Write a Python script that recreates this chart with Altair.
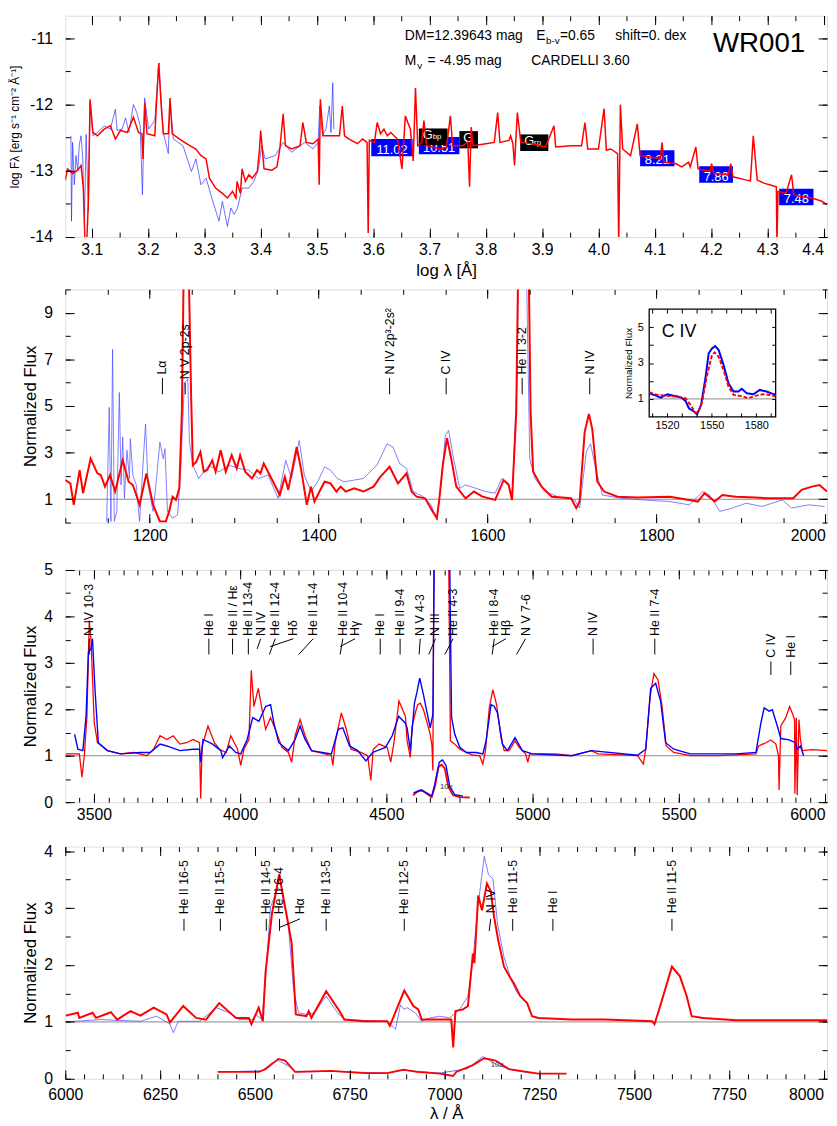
import altair as alt
import pandas as pd

FONT = "Liberation Sans"
W = 771
H1, H2, H3, H4 = 224, 236, 235, 235

# ---------------- Panel 1 : SED (log lambda, log F) ----------------
P1_XDOM = [3.053, 4.406]
P1_YDOM = [-14.0, -10.657]
P1_RED = [(3.053,-13.14),(3.057,-12.97),(3.066,-13.04),(3.075,-12.99),(3.081,-12.92),(3.085,-13.26),
          (3.088,-14.1),(3.091,-14.1),(3.094,-13.46),(3.097,-11.92),(3.102,-12.42),(3.110,-12.47),
          (3.122,-12.37),(3.133,-12.32),(3.142,-12.52),(3.151,-12.39),(3.163,-12.42),(3.174,-12.19),
          (3.183,-12.42),(3.189,-12.44),(3.191,-12.82),(3.194,-11.97),(3.198,-12.44),(3.212,-12.47),
          (3.215,-11.97),(3.219,-11.37),(3.223,-11.97),(3.227,-12.44),(3.236,-12.44),(3.239,-11.90),
          (3.243,-12.44),(3.256,-12.52),(3.274,-12.62),(3.285,-12.67),(3.294,-12.77),(3.303,-12.82),
          (3.309,-13.11),(3.320,-13.26),(3.332,-13.34),(3.341,-13.41),(3.350,-13.31),(3.356,-13.41),
          (3.358,-13.16),(3.364,-13.34),(3.367,-12.97),(3.373,-13.16),(3.379,-13.06),(3.385,-13.11),
          (3.394,-13.01),(3.398,-12.67),(3.400,-12.39),(3.406,-12.97),(3.420,-12.99),(3.429,-12.94),
          (3.434,-12.67),(3.440,-12.14),(3.444,-12.62),(3.455,-12.67),(3.470,-12.62),(3.475,-12.27),
          (3.481,-12.57),(3.493,-12.59),(3.502,-12.52),(3.504,-13.21),(3.506,-11.92),(3.511,-12.47),
          (3.525,-12.47),(3.540,-12.47),(3.545,-12.02),(3.549,-12.47),(3.557,-12.52),(3.572,-12.59),
          (3.581,-12.52),(3.589,-12.57),(3.591,-13.94),(3.593,-12.54),(3.602,-12.57),(3.607,-12.27),
          (3.613,-12.44),(3.619,-12.37),(3.625,-12.47),(3.631,-12.42),(3.643,-12.52),(3.651,-12.97),
          (3.657,-12.17),(3.666,-12.37),(3.671,-12.85),(3.675,-11.75),(3.679,-12.62),(3.686,-12.57),
          (3.690,-12.24),(3.695,-12.62),(3.718,-12.67),(3.730,-12.65),(3.737,-12.17),(3.741,-12.62),
          (3.759,-12.62),(3.768,-12.57),(3.771,-13.24),(3.774,-12.34),(3.777,-12.62),(3.800,-12.59),
          (3.815,-12.57),(3.821,-12.12),(3.825,-12.57),(3.841,-12.54),(3.844,-12.47),(3.848,-12.59),
          (3.851,-12.92),(3.853,-12.57),(3.856,-12.12),(3.862,-12.57),(3.882,-12.59),(3.906,-12.64),
          (3.921,-12.32),(3.924,-12.64),(3.952,-12.62),(3.970,-12.62),(3.976,-12.27),(3.981,-12.67),
          (4.000,-12.67),(4.010,-12.06),(4.014,-12.69),(4.022,-12.67),(4.034,-12.74),(4.036,-14.1),
          (4.039,-12.00),(4.043,-12.67),(4.057,-12.77),(4.069,-12.29),(4.074,-12.77),(4.092,-12.79),
          (4.110,-12.82),(4.113,-12.57),(4.116,-12.87),(4.137,-12.89),(4.148,-12.94),(4.160,-12.87),
          (4.163,-12.94),(4.173,-12.64),(4.177,-12.97),(4.198,-13.01),(4.201,-12.89),(4.205,-13.04),
          (4.230,-13.06),(4.235,-12.89),(4.239,-13.09),(4.263,-13.14),(4.270,-13.15),(4.275,-12.47),
          (4.282,-13.14),(4.295,-13.19),(4.304,-13.21),(4.316,-13.24),(4.317,-14.1),(4.319,-13.31),
          (4.333,-13.34),(4.343,-13.06),(4.347,-13.36),(4.362,-13.39),(4.379,-13.41),(4.397,-13.46),
          (4.406,-13.51)]
P1_BLUE = [(3.063,-12.47),(3.064,-13.76),(3.066,-12.57),(3.069,-13.21),(3.072,-12.77),(3.075,-13.0),
           (3.078,-12.6),(3.081,-12.47),(3.084,-12.82),(3.087,-13.76),(3.090,-12.45),(3.094,-13.61),
           (3.097,-11.97),(3.102,-12.47),(3.110,-12.42),(3.122,-12.32),(3.133,-12.37),(3.142,-12.07),
           (3.145,-12.39),(3.154,-12.37),(3.160,-12.2),(3.166,-12.42),(3.174,-12.0),(3.180,-12.12),
           (3.186,-12.32),(3.190,-13.36),(3.194,-11.90),(3.201,-12.37),(3.212,-12.24),(3.219,-11.37),
           (3.227,-12.42),(3.236,-12.74),(3.239,-11.97),(3.245,-12.52),(3.262,-12.62),(3.277,-13.01),
           (3.285,-12.82),(3.294,-13.21),(3.303,-13.11),(3.315,-13.46),(3.326,-13.76),(3.332,-13.46),
           (3.341,-13.84),(3.347,-13.56),(3.353,-13.66),(3.359,-13.56),(3.367,-13.26),(3.379,-13.26),
           (3.388,-13.16),(3.396,-12.97),(3.402,-12.62),(3.408,-12.82),(3.426,-12.77),(3.440,-12.57),
           (3.455,-12.72),(3.478,-12.57),(3.493,-12.67),(3.502,-12.57),(3.505,-12.02),(3.510,-12.47),
           (3.516,-12.37),(3.522,-12.02),(3.525,-12.42),(3.528,-11.67),(3.530,-12.37)]
P1_BLUE_BOX_X1 = [3.5965, 3.681, 4.074, 4.179, 4.321]
P1_BLUE_BOX_X2 = [3.670, 3.753, 4.135, 4.239, 4.382]
P1_BLUE_BOX_Y1 = [-12.52, -12.49, -12.69, -12.93, -13.27]
P1_BLUE_BOX_Y2 = [-12.78, -12.75, -12.93, -13.18, -13.52]
P1_BLUE_BOX_TXT = ["11.02", "10.51", "8.21", "7.86", "7.48"]
P1_BLACK_BOX_X1 = [3.681, 3.753, 3.861]
P1_BLACK_BOX_X2 = [3.732, 3.786, 3.911]
P1_BLACK_BOX_Y1 = [-12.36, -12.40, -12.45]
P1_BLACK_BOX_Y2 = [-12.61, -12.66, -12.70]
P1_BLACK_BOX_TXT = ["G", "G", "G"]
P1_BLACK_BOX_SUB = ["bp", "", "rp"]
P1_INFO_TXT = ["DM=12.39643 mag", "E", "=0.65", "shift=0. dex", "M", "= -4.95 mag", "CARDELLI 3.60"]
P1_INFO_X = [3.656, 3.8895, 3.9316, 4.030, 3.656, 3.6965, 3.8807]
P1_INFO_Y = [-11.03, -11.03, -11.03, -11.03, -11.40, -11.40, -11.40]
P1_SUB_TXT = ["b-v", "v"]
P1_SUB_X = [3.9070, 3.678]
P1_SUB_Y = [-11.09, -11.46]
P1_TITLE = ["WR001"]
P1_TITLE_X = [4.2035]
P1_TITLE_Y = [-11.20]

# ---------------- Panel 2 : UV ----------------
P2_XDOM = [1100, 2002]
P2_YDOM = [0, 10]
P2_RED = [(1100,1.82),(1106,1.68),(1110,0.76),(1117,2.25),(1121,1.26),(1130,2.74),(1138,2.11),(1142,2.04),
          (1147,1.54),(1153,2.04),(1159,1.33),(1168,2.67),(1175,1.75),(1180,1.61),(1188,0.76),(1196,2.11),
          (1204,0.76),(1212,0.05),(1219,0.05),(1223,0.48),(1227,1.11),(1231,0.97),(1235,1.47),(1238,4.73),
          (1241,13),(1245,13),(1249,5.44),(1251,2.46),(1255,2.60),(1260,3.03),(1264,2.18),(1268,2.25),
          (1274,2.67),(1278,2.18),(1284,3.10),(1290,2.18),(1297,2.89),(1303,2.32),(1307,2.89),(1313,2.18),
          (1321,1.89),(1327,2.25),(1331,2.11),(1335,2.53),(1340,2.18),(1348,1.61),(1354,1.18),(1360,1.96),
          (1364,1.40),(1374,3.24),(1379,2.32),(1386,0.76),(1391,1.54),(1395,0.90),(1401,1.33),(1407,1.75),
          (1414,1.68),(1421,1.33),(1426,1.54),(1432,1.33),(1442,1.47),(1453,1.33),(1465,1.54),(1473,1.96),
          (1484,2.39),(1494,1.68),(1504,2.11),(1510,1.33),(1516,1.11),(1526,1.04),(1535,0.48),(1540,0.19),
          (1543,1.04),(1547,2.46),(1552,3.62),(1557,2.74),(1563,1.54),(1574,1.04),(1584,1.33),(1594,1.11),
          (1609,0.97),(1619,1.82),(1625,1.61),(1629,0.97),(1634,4.73),(1637,13),(1648,13),(1651,4.73),
          (1654,2.18),(1664,1.54),(1676,1.11),(1699,1.04),(1705,0.62),(1709,0.90),(1715,3.88),(1720,4.66),
          (1724,4.02),(1730,1.75),(1738,1.33),(1754,1.11),(1777,1.07),(1816,1.11),(1839,0.97),(1849,0.90),
          (1857,1.26),(1869,0.90),(1878,1.18),(1894,1.11),(1917,1.07),(1933,1.04),(1962,1.04),(1972,1.40),
          (1984,1.54),(1993,1.61),(2002,1.33)]
P2_BLUE = [(1149,0.05),(1152,4.94),(1154,0.05),(1156,7.43),(1158,0.05),(1161,0.48),(1164,5.58),(1166,1.61),
           (1168,3.67),(1170,1.04),(1173,3.10),(1176,1.89),(1177,3.60),(1180,2.04),(1184,1.61),(1188,0.05),
           (1191,1.89),(1195,4.23),(1198,1.61),(1204,0.48),(1208,1.89),(1212,3.45),(1216,2.74),(1218,3.17),
           (1221,0.48),(1227,0.19),(1233,0.33),(1237,2.46),(1241,6.0),(1245,6.15),(1247,3.45),(1251,2.46),
           (1258,1.89),(1270,2.46),(1282,2.18),(1294,2.46),(1305,2.32),(1317,2.25),(1329,1.89),(1340,2.04),
           (1352,1.04),(1361,2.67),(1368,1.89),(1377,3.52),(1383,2.04),(1391,1.33),(1399,1.75),(1407,2.39),
           (1414,2.25),(1422,1.89),(1430,1.75),(1442,1.82),(1453,1.89),(1469,2.46),(1481,3.38),(1488,3.24),
           (1496,2.53),(1504,2.32),(1512,1.33),(1524,1.11),(1533,0.76),(1540,0.12),(1545,1.61),(1550,3.74),
           (1554,3.95),(1559,2.89),(1567,1.47),(1574,1.61),(1586,1.47),(1598,1.33),(1609,1.26),(1617,1.89),
           (1625,1.68),(1629,0.97),(1635,6.15),(1637,13),(1645,13),(1650,2.74),(1656,1.89),(1668,1.33),
           (1683,1.11),(1703,0.97),(1709,0.62),(1717,3.03),(1722,3.38),(1728,2.32),(1736,1.18),(1758,1.04),
           (1785,0.97),(1816,0.90),(1839,0.76),(1855,1.33),(1863,1.18),(1875,0.48),(1890,0.62),(1906,0.83),
           (1925,0.69),(1949,0.97),(1960,0.62),(1980,0.76),(1999,0.69)]
P2_ID_TXT = ["L\u03b1", "N V 2p-2s", "N IV 2p\u00b3-2s\u00b2", "C IV", "He II 3-2", "N IV"]
P2_ID_X = [1215, 1242, 1484, 1551, 1641, 1721]
P2_ID_TEXT_Y = [6.35, 6.15, 6.35, 6.35, 6.35, 6.35]
P2_ID_LEAD_X2 = [1215, 1242, 1484, 1551, 1641, 1721]
P2_ID_LEAD_TOP = [6.2, 6.0, 6.2, 6.2, 6.2, 6.2]
P2_ID_LEAD_BOT = [5.5, 5.5, 5.5, 5.5, 5.5, 5.5]

# inset (C IV)
INSET_XDOM = [1508, 1593]
INSET_YDOM = [0, 6]
INSET_BLUE = [(1508,1.31),(1511.3,1.22),(1515.8,1.07),(1520.2,1.26),(1523.6,1.19),(1526.9,1.13),(1530.2,1.04),
              (1532.4,0.89),(1534.7,0.48),(1538,0.30),(1540.2,0.15),(1542.9,0.67),(1545.8,2.15),(1548,3.54),
              (1550.2,3.81),(1552.4,3.94),(1554.7,3.72),(1558,2.89),(1561.3,1.87),(1564.7,1.41),(1568,1.41),
              (1570.2,1.56),(1573.6,1.31),(1578,1.26),(1582.4,1.50),(1586.9,1.41),(1590.2,1.31),(1593,1.22)]
INSET_RED = [(1508,1.37),(1513.6,1.22),(1520.2,1.17),(1526.9,1.13),(1532.4,1.04),(1535.8,0.67),(1539.1,0.20),
             (1541.3,0.30),(1543.6,0.85),(1546.9,2.33),(1550.2,3.44),(1552,3.59),(1554.7,3.35),(1558,2.61),
             (1561.3,1.69),(1564.7,1.22),(1569.1,1.17),(1574.7,1.04),(1579.1,1.17),(1584.7,1.26),(1589.1,1.22),
             (1593,1.13)]
INSET_LABEL = ["C IV"]
INSET_LABEL_X = [1516.5]
INSET_LABEL_Y = [4.45]

# ---------------- Panel 3 : optical blue ----------------
P3_XDOM = [3402, 6007]
P3_YDOM = [0, 5]
P3_RED = [(3403,1.04),(3450,1.04),(3459,0.54),(3467,1.0),(3476,1.85),(3484,3.91),(3490,3.48),(3501,1.71),
          (3512,1.28),(3546,1.11),(3591,1.04),(3636,1.07),(3681,1.0),(3704,1.14),(3726,1.43),(3749,1.35),
          (3771,1.43),(3794,1.25),(3816,1.28),(3839,1.35),(3861,1.28),(3865,0.08),(3870,1.21),(3890,1.64),
          (3912,1.28),(3929,1.14),(3952,1.07),(3968,1.43),(3991,1.14),(4002,0.79),(4013,1.14),(4030,1.35),
          (4038,2.84),(4047,2.06),(4062,2.45),(4075,1.99),(4087,1.57),(4104,1.82),(4120,1.57),(4143,1.18),
          (4165,1.07),(4176,0.86),(4188,1.43),(4205,1.78),(4222,1.43),(4244,1.11),(4289,1.04),(4312,1.0),
          (4317,0.79),(4325,1.28),(4346,1.92),(4363,1.57),(4379,1.14),(4413,1.07),(4436,1.0),(4447,0.47),
          (4455,1.14),(4475,1.25),(4503,1.18),(4515,0.86),(4526,1.28),(4543,2.18),(4565,1.85),(4571,1.32),
          (4582,0.96),(4588,1.64),(4599,1.92),(4607,2.10),(4616,2.13),(4627,1.99),(4638,1.74),(4650,1.46),
          (4656,1.21),(4659,0.68),(4663,6.0),(4712,6.0),(4719,1.32),(4734,1.25),(4751,1.14),(4774,1.07),
          (4796,1.01),(4819,1.0),(4830,0.82),(4839,1.11),(4852,2.03),(4864,2.42),(4877,2.10),(4892,1.39),
          (4903,1.11),(4920,1.11),(4940,1.32),(4954,1.18),(4976,1.04),(4984,0.86),(4990,1.04),(5078,1.04),
          (5134,1.0),(5179,1.07),(5201,1.11),(5224,1.04),(5359,1.0),(5379,0.82),(5387,1.14),(5402,2.28),
          (5415,2.77),(5429,2.63),(5443,2.06),(5457,1.21),(5483,1.07),(5539,1.0),(5640,1.0),(5764,1.04),
          (5773,1.21),(5798,1.28),(5815,1.34),(5832,1.25),(5841,1.0),(5843,0.26),(5849,1.64),(5866,1.82),
          (5879,2.06),(5888,1.92),(5896,1.78),(5897,0.18),(5902,1.82),(5905,0.15),(5911,1.78),(5916,1.35),
          (5922,1.11),(5956,1.13),(6007,1.11)]
P3_BLUE = [(3434,1.46),(3445,1.14),(3462,1.11),(3473,1.85),(3481,3.23),(3490,3.30),(3495,3.52),(3503,2.49),
           (3515,1.28),(3546,1.11),(3591,1.04),(3659,1.07),(3692,1.07),(3726,1.25),(3749,1.21),(3794,1.11),
           (3839,1.14),(3861,1.14),(3865,0.86),(3873,1.35),(3906,1.25),(3934,1.11),(3940,0.96),(3963,1.21),
           (3985,1.07),(4002,1.04),(4024,1.35),(4043,1.82),(4064,1.74),(4087,2.06),(4104,2.10),(4115,1.71),
           (4132,1.28),(4165,1.11),(4188,1.35),(4205,1.64),(4222,1.35),(4244,1.11),(4312,1.04),(4335,1.57),
           (4351,1.60),(4374,1.21),(4402,1.11),(4430,0.89),(4453,1.07),(4497,1.18),(4520,1.43),(4542,1.85),
           (4565,1.70),(4571,1.60),(4582,1.11),(4596,2.13),(4605,2.38),(4614,2.67),(4627,2.31),(4638,1.96),
           (4650,1.60),(4659,1.89),(4665,6.0),(4715,6.0),(4723,1.82),(4734,1.46),(4751,1.18),(4774,1.07),
           (4807,1.07),(4830,1.04),(4841,1.32),(4858,2.10),(4869,2.06),(4880,1.92),(4897,1.25),(4914,1.11),
           (4940,1.39),(4965,1.11),(4999,1.04),(5134,1.0),(5201,1.11),(5359,1.01),(5387,1.14),(5404,2.45),
           (5421,2.56),(5438,2.17),(5455,1.28),(5483,1.14),(5539,1.04),(5697,1.04),(5764,1.07),(5781,1.71),
           (5792,2.03),(5809,1.96),(5820,1.99),(5837,1.64),(5849,1.37),(5877,1.34),(5899,1.28),(5905,1.14),
           (5916,1.21),(5927,1.0)]
P3_RED_10X = [(4591,0.15),(4605,0.22),(4622,0.26),(4638,0.18),(4655,0.11),(4666,0.33),(4678,0.75),(4689,0.81),
              (4700,0.72),(4712,0.33),(4728,0.15),(4751,0.11),(4785,0.10)]
P3_BLUE_10X = [(4593,0.20),(4616,0.26),(4638,0.20),(4655,0.13),(4666,0.40),(4681,0.86),(4692,0.91),(4704,0.79),
               (4717,0.33),(4734,0.16),(4762,0.13)]
P3_10X_LABEL = ["10x"]
P3_10X_X = [4683]
P3_10X_Y = [0.33]
P3_ID_TXT = ["N IV 10-3", "He I", "He II / H\u03b5", "He II 13-4", "N IV", "He II 12-4", "H\u03b4", "He II 11-4",
             "He II 10-4", "H\u03b3", "He I", "He II 9-4", "N V 4-3", "N III", "He II 4-3", "He II 8-4", "H\u03b2",
             "N V 7-6", "N IV", "He II 7-4", "C IV", "He I"]
P3_ID_X = [3484, 3893, 3974, 4028, 4070, 4120, 4182, 4250, 4351, 4393, 4479, 4547, 4616, 4668, 4728, 4869,
           4909, 4976, 5207, 5418, 5815, 5883]
P3_ID_TEXT_Y = [3.58, 3.58, 3.58, 3.58, 3.58, 3.58, 3.58, 3.58, 3.58, 3.58, 3.58, 3.58, 3.58, 3.58, 3.58,
                3.58, 3.58, 3.58, 3.58, 3.58, 3.11, 3.11]
P3_ID_LEAD_X2 = [3484, 3893, 3974, 4028, 4058, 4100, 4102, 4200, 4342, 4342, 4479, 4547, 4612, 4645, 4700,
                 4862, 4862, 4945, 5207, 5418, 5815, 5883]
P3_ID_LEAD_TOP = [3.52, 3.52, 3.52, 3.52, 3.52, 3.52, 3.52, 3.52, 3.52, 3.52, 3.52, 3.52, 3.52, 3.52, 3.52,
                  3.52, 3.52, 3.52, 3.52, 3.52, 3.03, 3.03]
P3_ID_LEAD_BOT = [3.18, 3.18, 3.18, 3.18, 3.30, 3.18, 3.35, 3.18, 3.18, 3.35, 3.18, 3.18, 3.18, 3.18, 3.18,
                  3.18, 3.35, 3.18, 3.18, 3.18, 2.74, 2.74]

# ---------------- Panel 4 : optical red ----------------
P4_XDOM = [6000, 8009]
P4_YDOM = [0, 4.08]
P4_RED = [(6001,1.11),(6033,1.16),(6037,1.07),(6072,1.16),(6081,1.07),(6120,1.17),(6137,1.04),(6172,1.19),
          (6198,1.11),(6233,1.25),(6267,1.13),(6276,0.99),(6311,1.28),(6345,1.07),(6371,1.04),(6406,1.33),
          (6450,1.07),(6484,1.07),(6491,0.96),(6510,1.25),(6521,1.01),(6528,1.86),(6545,2.90),(6564,3.59),
          (6575,3.19),(6588,2.72),(6597,2.38),(6608,1.13),(6636,1.10),(6642,1.19),(6649,1.07),(6688,1.54),
          (6723,1.19),(6736,1.04),(6788,1.01),(6849,1.01),(6856,0.93),(6894,1.55),(6918,1.28),(6931,1.22),
          (6940,1.04),(6970,1.04),(7018,1.04),(7023,0.55),(7029,1.19),(7049,1.22),(7062,1.28),(7075,2.20),
          (7079,2.03),(7089,3.22),(7099,2.96),(7112,3.43),(7122,3.30),(7131,2.84),(7142,2.43),(7157,1.97),
          (7174,1.77),(7183,1.68),(7200,1.45),(7218,1.33),(7231,1.10),(7248,1.07),(7335,1.04),(7422,1.04),
          (7548,1.01),(7554,0.96),(7565,1.19),(7600,1.97),(7621,1.80),(7639,1.45),(7652,1.10),(7682,1.07),
          (7769,1.03),(8009,1.03)]
P4_BLUE = [(6001,1.0),(6094,1.04),(6198,1.01),(6241,1.10),(6276,0.96),(6285,0.81),(6298,1.01),(6354,1.01),
           (6398,1.25),(6432,1.16),(6458,1.04),(6493,1.04),(6502,1.13),(6519,1.04),(6528,1.74),(6541,3.01),
           (6561,3.36),(6570,3.30),(6588,2.72),(6602,1.57),(6615,1.16),(6636,1.13),(6657,1.16),(6688,1.45),
           (6718,1.16),(6736,1.04),(6849,1.01),(6871,0.87),(6884,1.30),(6893,1.22),(6901,1.25),(6923,1.16),
           (6940,1.01),(6962,1.07),(6988,1.10),(7014,1.07),(7040,1.22),(7062,1.45),(7075,2.09),(7088,3.01),
           (7105,3.91),(7116,3.59),(7128,3.51),(7140,2.72),(7157,2.14),(7179,1.68),(7192,1.51),(7200,1.45)]
P4_RED_10X = [(6402,0.12),(6510,0.12),(6528,0.17),(6562,0.35),(6580,0.32),(6606,0.12),(6701,0.14),(6788,0.10),
              (6849,0.10),(6892,0.16),(6927,0.12),(6988,0.09),(7023,0.05),(7031,0.12),(7075,0.24),(7105,0.36),
              (7135,0.32),(7170,0.17),(7248,0.09),(7322,0.09)]
P4_BLUE_10X = [(6402,0.12),(6519,0.14),(6545,0.28),(6562,0.32),(6590,0.22),(6606,0.12),(6701,0.13),(6849,0.10),
               (6892,0.15),(6988,0.10),(7062,0.18),(7101,0.39),(7144,0.23),(7180,0.15),(7230,0.10)]
P4_10X_LABEL = ["10x"]
P4_10X_X = [7122]
P4_10X_Y = [0.24]
P4_ID_TXT = ["He II 16-5", "He II 15-5", "He II 14-5", "He II 6-4", "H\u03b1", "He II 13-5", "He II 12-5",
             "N IV", "He II 11-5", "He I", "He II 11-5"]
P4_ID_X = [6313, 6409, 6530, 6565, 6619, 6688, 6894, 7122, 7180, 7286, 7600]
P4_ID_TEXT_Y = [2.89, 2.89, 2.89, 2.89, 2.89, 2.89, 2.89, 2.91, 2.91, 2.91, 2.91]
P4_ID_LEAD_X2 = [6313, 6409, 6530, 6565, 6565, 6688, 6894, 7118, 7180, 7286, 7600]
P4_ID_LEAD_TOP = [2.81, 2.81, 2.81, 2.81, 2.81, 2.81, 2.81, 2.81, 2.81, 2.81, 2.81]
P4_ID_LEAD_BOT = [2.60, 2.60, 2.60, 2.60, 2.66, 2.60, 2.60, 2.60, 2.60, 2.60, 2.60]

CONTINUUM = [1.0]

# ---------------- helpers ----------------
def mk_df(pairs):
    return pd.DataFrame({"x": [p[0] for p in pairs], "y": [p[1] for p in pairs],
                         "i": list(range(len(pairs)))})


def sc(dom, rng=None):
    if rng is None:
        return alt.Scale(domain=dom, nice=False, zero=False)
    return alt.Scale(domain=dom, range=rng, nice=False, zero=False)


def XE(field, s, axis=None):
    return alt.X(field, type="quantitative", scale=s, axis=axis)


def YE(field, s, axis=None):
    return alt.Y(field, type="quantitative", scale=s, axis=axis)


def tick_axis(orient, values, size, offset):
    # axis moved onto the opposite edge of the view so that its ticks point inward
    return alt.Axis(orient=orient, values=values, labels=False, domain=False, grid=False, ticks=True,
                    tickSize=size, tickColor="black", tickWidth=1, tickOpacity=1, title=None,
                    offset=offset, zindex=2)


def xlab_axis(values, fmt, last, title=None, tsize=17, tpad=5, topacity=1.0, lpad=5):
    return alt.Axis(orient="bottom", values=values, format=fmt, ticks=False, domain=False, grid=False,
                    labelFont=FONT, labelFontSize=16, labelColor="black", labelPadding=lpad,
                    labelOverlap=False, labelFlush=False,
                    labelExpr="replace(datum.label, '\u2212', '-')",
                    labelAlign={"condition": {"test": "datum.value >= %s" % last, "value": "right"},
                                "value": "center"},
                    title=title, titleFont=FONT, titleFontSize=tsize, titleFontWeight="normal",
                    titleColor="black", titlePadding=tpad, titleOpacity=topacity)


def ylab_axis(values, fmt, title, tsize=17, tpad=4, lpad=13):
    return alt.Axis(orient="left", values=values, format=fmt, ticks=False, domain=False, grid=False,
                    labelFont=FONT, labelFontSize=16, labelColor="black", labelPadding=lpad,
                    labelOverlap=False, labelExpr="replace(datum.label, '\u2212', '-')",
                    title=title, titleFont=FONT, titleFontSize=tsize, titleFontWeight="normal",
                    titleColor="black", titlePadding=tpad)


def hosts(xdom, ydom, sx, sy, h, xlab, ylab, xmaj, xmin, ymaj, ymin, big=9, small=5):
    df = pd.DataFrame({"x": [(xdom[0] + xdom[1]) / 2.0], "y": [(ydom[0] + ydom[1]) / 2.0]})
    base = alt.Chart(df).mark_point(opacity=0, size=1)
    pairs = [(xlab, ylab),
             (tick_axis("top", xmaj, big, -h), tick_axis("right", ymaj, big, -W)),
             (tick_axis("top", xmin, small, -h), tick_axis("right", ymin, small, -W)),
             (tick_axis("bottom", xmaj, big, -h), tick_axis("left", ymaj, big, -W)),
             (tick_axis("bottom", xmin, small, -h), tick_axis("left", ymin, small, -W))]
    return [base.encode(x=XE("x", sx, a), y=YE("y", sy, b)) for a, b in pairs]


def line(pairs, sx, sy, color, width, opacity=1.0, dash=None):
    kw = dict(color=color, strokeWidth=width, opacity=opacity, clip=True, interpolate="linear")
    if dash:
        kw["strokeDash"] = dash
    return alt.Chart(mk_df(pairs)).mark_line(**kw).encode(
        x=XE("x", sx), y=YE("y", sy), order=alt.Order("i:Q"))


def continuum(sy, color="#888888", width=1.0):
    return alt.Chart(pd.DataFrame({"y": CONTINUUM})).mark_rule(color=color, strokeWidth=width).encode(
        y=YE("y", sy))


def ids(texts, xs, ty, x2s, ytop, ybot, sx, sy, fs=12.5):
    tdf = pd.DataFrame({"t": texts, "x": xs, "y": ty})
    ldf = pd.DataFrame({"x": xs, "x2": x2s, "y": ytop, "y2": ybot})
    r = alt.Chart(ldf).mark_rule(color="black", strokeWidth=1, clip=True).encode(
        x=XE("x", sx), x2=alt.X2("x2"), y=YE("y", sy), y2=alt.Y2("y2"))
    t = alt.Chart(tdf).mark_text(angle=270, align="left", baseline="middle", font=FONT, fontSize=fs,
                                 color="black").encode(x=XE("x", sx), y=YE("y", sy), text="t:N")
    return [r, t]


def text_layer(texts, xs, ys, sx, sy, **kw):
    df = pd.DataFrame({"t": texts, "x": xs, "y": ys})
    return alt.Chart(df).mark_text(**kw).encode(x=XE("x", sx), y=YE("y", sy), text="t:N")


def frange(a, b, step, nd=2):
    out, k = [], 0
    while True:
        v = round(a + k * step, nd)
        if v > b + 1e-9:
            break
        out.append(v)
        k += 1
    return out

# ---------------- Panel 1 ----------------
sx1, sy1 = sc(P1_XDOM), sc(P1_YDOM)
p1_xmaj = frange(3.1, 4.4, 0.1)
p1_xmin = frange(3.1, 4.4, 0.05)
p1_ymaj = [-14, -13, -12, -11]
p1_ymin = frange(-14, -11, 0.5)
p1_hosts = hosts(P1_XDOM, P1_YDOM, sx1, sy1, H1,
                 xlab_axis(p1_xmaj, ".1f", 4.39, title="log \u03bb [\u00c5]", tpad=5),
                 ylab_axis(p1_ymaj, ".0f", "log F\u03bb [erg s\u207b\u00b9 cm\u207b\u00b2 \u00c5\u207b\u00b9]",
                           tsize=12, tpad=8),
                 p1_xmaj, p1_xmin, p1_ymaj, p1_ymin, big=9, small=5)

bb = pd.DataFrame({"x1": P1_BLUE_BOX_X1, "x2": P1_BLUE_BOX_X2, "y1": P1_BLUE_BOX_Y1,
                   "y2": P1_BLUE_BOX_Y2, "t": P1_BLUE_BOX_TXT})
bb["xc"] = (bb["x1"] + bb["x2"]) / 2
kb = pd.DataFrame({"x1": P1_BLACK_BOX_X1, "x2": P1_BLACK_BOX_X2, "y1": P1_BLACK_BOX_Y1,
                   "y2": P1_BLACK_BOX_Y2, "t": P1_BLACK_BOX_TXT, "s": P1_BLACK_BOX_SUB})
kb["yc"] = (kb["y1"] + kb["y2"]) / 2

blue_boxes = alt.Chart(bb).mark_rect(color="#0000ff").encode(
    x=XE("x1", sx1), x2=alt.X2("x2"), y=YE("y1", sy1), y2=alt.Y2("y2"))
blue_box_txt = alt.Chart(bb).mark_text(color="white", font=FONT, fontSize=13, baseline="bottom",
                                        dy=1).encode(
    x=XE("xc", sx1), y=YE("y2", sy1), text="t:N")
black_boxes = alt.Chart(kb).mark_rect(color="black").encode(
    x=XE("x1", sx1), x2=alt.X2("x2"), y=YE("y1", sy1), y2=alt.Y2("y2"))
black_box_txt = alt.Chart(kb).mark_text(color="white", font=FONT, fontSize=13, baseline="middle",
                                         align="left", dx=4, dy=-2).encode(
    x=XE("x1", sx1), y=YE("yc", sy1), text="t:N")
black_box_sub = alt.Chart(kb).mark_text(color="white", font=FONT, fontSize=8, baseline="middle",
                                         align="left", dx=14, dy=0.5).encode(
    x=XE("x1", sx1), y=YE("yc", sy1), text="s:N")

p1 = alt.layer(
    *p1_hosts,
    line(P1_BLUE, sx1, sy1, "#2a2aff", 0.8, 0.85),
    blue_boxes, blue_box_txt, black_boxes, black_box_txt, black_box_sub,
    line(P1_RED, sx1, sy1, "#ff0000", 1.5),
    text_layer(P1_INFO_TXT, P1_INFO_X, P1_INFO_Y, sx1, sy1, align="left", baseline="alphabetic",
               font=FONT, fontSize=14, color="black"),
    text_layer(P1_SUB_TXT, P1_SUB_X, P1_SUB_Y, sx1, sy1, align="left", baseline="alphabetic",
               font=FONT, fontSize=10, color="black"),
    text_layer(P1_TITLE, P1_TITLE_X, P1_TITLE_Y, sx1, sy1, align="left", baseline="alphabetic",
               font=FONT, fontSize=28, color="black"),
).resolve_axis(x="independent", y="independent").properties(width=W, height=H1)

# ---------------- Panel 2 ----------------
sx2, sy2 = sc(P2_XDOM), sc(P2_YDOM)
p2_xmaj = [1200, 1400, 1600, 1800, 2000]
p2_xmin = frange(1100, 2000, 50, 0)
p2_ymaj = [1, 3, 5, 7, 9]
p2_ymin = frange(0, 10, 1, 0)
p2_hosts = hosts(P2_XDOM, P2_YDOM, sx2, sy2, H2,
                 xlab_axis(p2_xmaj, "d", 1999, title=".", tsize=6, tpad=2, topacity=0.0),
                 ylab_axis(p2_ymaj, "d", "Normalized Flux"),
                 p2_xmaj, p2_xmin, p2_ymaj, p2_ymin)

IX0, IX1, IY0, IY1 = 591, 719, 20, 129
sxi = sc(INSET_XDOM, [IX0, IX1])
syi = sc(INSET_YDOM, [IY1, IY0])
inset_frame = alt.Chart(pd.DataFrame({"x": [INSET_XDOM[0]], "x2": [INSET_XDOM[1]],
                                      "y": [INSET_YDOM[0]], "y2": [INSET_YDOM[1]]})).mark_rect(
    fill="white", stroke="black", strokeWidth=1.3).encode(
    x=XE("x", sxi), x2=alt.X2("x2"), y=YE("y", syi), y2=alt.Y2("y2"))
inset_cont = alt.Chart(pd.DataFrame({"x": [INSET_XDOM[0]], "x2": [INSET_XDOM[1]], "y": CONTINUUM})).mark_rule(
    color="#888888", strokeWidth=1).encode(x=XE("x", sxi), x2=alt.X2("x2"), y=YE("y", syi))
ihost = alt.Chart(pd.DataFrame({"x": [1550.0], "y": [3.0]})).mark_point(opacity=0, size=1)
ix_lab = alt.Axis(orient="bottom", offset=IY1 - H2, values=[1520, 1550, 1580], format="d", ticks=False,
                  domain=False, grid=False, labelFont=FONT, labelFontSize=11, labelPadding=3,
                  labelColor="black", labelFlush=False, labelOverlap=False, title=None, zindex=2)
iy_lab = alt.Axis(orient="left", offset=-IX0, values=[1, 3, 5], format="d", ticks=False, domain=False,
                  grid=False, labelFont=FONT, labelFontSize=11, labelPadding=6, labelColor="black",
                  labelOverlap=False, title="Normalized Flux", titleFont=FONT, titleFontSize=10,
                  titleFontWeight="normal", titleColor="black", titlePadding=4, zindex=2)
i_xt = frange(1510, 1590, 10, 0)
i_yt = [1, 2, 3, 4, 5]
inset_hosts = [
    ihost.encode(x=XE("x", sxi, ix_lab), y=YE("y", syi, iy_lab)),
    ihost.encode(x=XE("x", sxi, tick_axis("top", i_xt, 4, -IY1)),
                 y=YE("y", syi, tick_axis("right", i_yt, 4, IX0 - W))),
    ihost.encode(x=XE("x", sxi, tick_axis("bottom", i_xt, 4, IY0 - H2)),
                 y=YE("y", syi, tick_axis("left", i_yt, 4, -IX1))),
]

p2 = alt.layer(
    *p2_hosts,
    continuum(sy2),
    line(P2_BLUE, sx2, sy2, "#4d4dff", 0.8, 0.9),
    line(P2_RED, sx2, sy2, "#ff0000", 2.0),
    *ids(P2_ID_TXT, P2_ID_X, P2_ID_TEXT_Y, P2_ID_LEAD_X2, P2_ID_LEAD_TOP, P2_ID_LEAD_BOT, sx2, sy2),
    inset_frame, inset_cont,
    line(INSET_BLUE, sxi, syi, "#0000ff", 2.0),
    line(INSET_RED, sxi, syi, "#ff0000", 2.0, dash=[4, 2]),
    text_layer(INSET_LABEL, INSET_LABEL_X, INSET_LABEL_Y, sxi, syi, align="left", baseline="alphabetic",
               font=FONT, fontSize=18, color="black"),
    *inset_hosts,
).resolve_scale(x="independent", y="independent").resolve_axis(
    x="independent", y="independent").properties(width=W, height=H2)

# ---------------- Panel 3 ----------------
sx3, sy3 = sc(P3_XDOM), sc(P3_YDOM)
p3_xmaj = [3500, 4000, 4500, 5000, 5500, 6000]
p3_xmin = frange(3450, 6000, 50, 0)
p3_ymaj = [0, 1, 2, 3, 4, 5]
p3_ymin = frange(0, 5, 0.5, 1)
p3_hosts = hosts(P3_XDOM, P3_YDOM, sx3, sy3, H3,
                 xlab_axis(p3_xmaj, "d", 5999, title=".", tsize=8, tpad=2, topacity=0.0),
                 ylab_axis(p3_ymaj, "d", "Normalized Flux"),
                 p3_xmaj, p3_xmin, p3_ymaj, p3_ymin)
p3 = alt.layer(
    *p3_hosts,
    continuum(sy3),
    line(P3_RED, sx3, sy3, "#ff0000", 1.3),
    line(P3_BLUE, sx3, sy3, "#0000ff", 1.4),
    line(P3_RED_10X, sx3, sy3, "#ff0000", 1.8),
    line(P3_BLUE_10X, sx3, sy3, "#0000ff", 1.4),
    text_layer(P3_10X_LABEL, P3_10X_X, P3_10X_Y, sx3, sy3, align="left", baseline="middle",
               font=FONT, fontSize=8, color="#333333"),
    *ids(P3_ID_TXT, P3_ID_X, P3_ID_TEXT_Y, P3_ID_LEAD_X2, P3_ID_LEAD_TOP, P3_ID_LEAD_BOT, sx3, sy3),
).resolve_axis(x="independent", y="independent").properties(width=W, height=H3)

# ---------------- Panel 4 ----------------
sx4, sy4 = sc(P4_XDOM), sc(P4_YDOM)
p4_xmaj = [6000, 6250, 6500, 6750, 7000, 7250, 7500, 7750, 8000]
p4_xmin = frange(6000, 8000, 50, 0)
p4_ymaj = [0, 1, 2, 3, 4]
p4_ymin = frange(0, 4, 0.5, 1)
p4_hosts = hosts(P4_XDOM, P4_YDOM, sx4, sy4, H4,
                 xlab_axis(p4_xmaj, "d", 7999, title="\u03bb / \u00c5", tsize=17, tpad=3, lpad=8),
                 ylab_axis(p4_ymaj, "d", "Normalized Flux"),
                 p4_xmaj, p4_xmin, p4_ymaj, p4_ymin)
p4 = alt.layer(
    *p4_hosts,
    continuum(sy4, "#bbbbbb", 1.6),
    line(P4_BLUE, sx4, sy4, "#5c5cff", 0.9, 0.9),
    line(P4_RED, sx4, sy4, "#ff0000", 2.0),
    line(P4_BLUE_10X, sx4, sy4, "#5c5cff", 0.9),
    line(P4_RED_10X, sx4, sy4, "#ff0000", 1.8),
    text_layer(P4_10X_LABEL, P4_10X_X, P4_10X_Y, sx4, sy4, align="left", baseline="middle",
               font=FONT, fontSize=8, color="#333333"),
    *ids(P4_ID_TXT, P4_ID_X, P4_ID_TEXT_Y, P4_ID_LEAD_X2, P4_ID_LEAD_TOP, P4_ID_LEAD_BOT, sx4, sy4),
).resolve_axis(x="independent", y="independent").properties(width=W, height=H4)

chart = alt.vconcat(p1, p2, p3, p4, spacing=9, padding=0).configure_view(
    stroke="black", strokeWidth=1.5).configure(background="white")

chart.save("out.html", embed_options={"renderer": "svg", "actions": False})
